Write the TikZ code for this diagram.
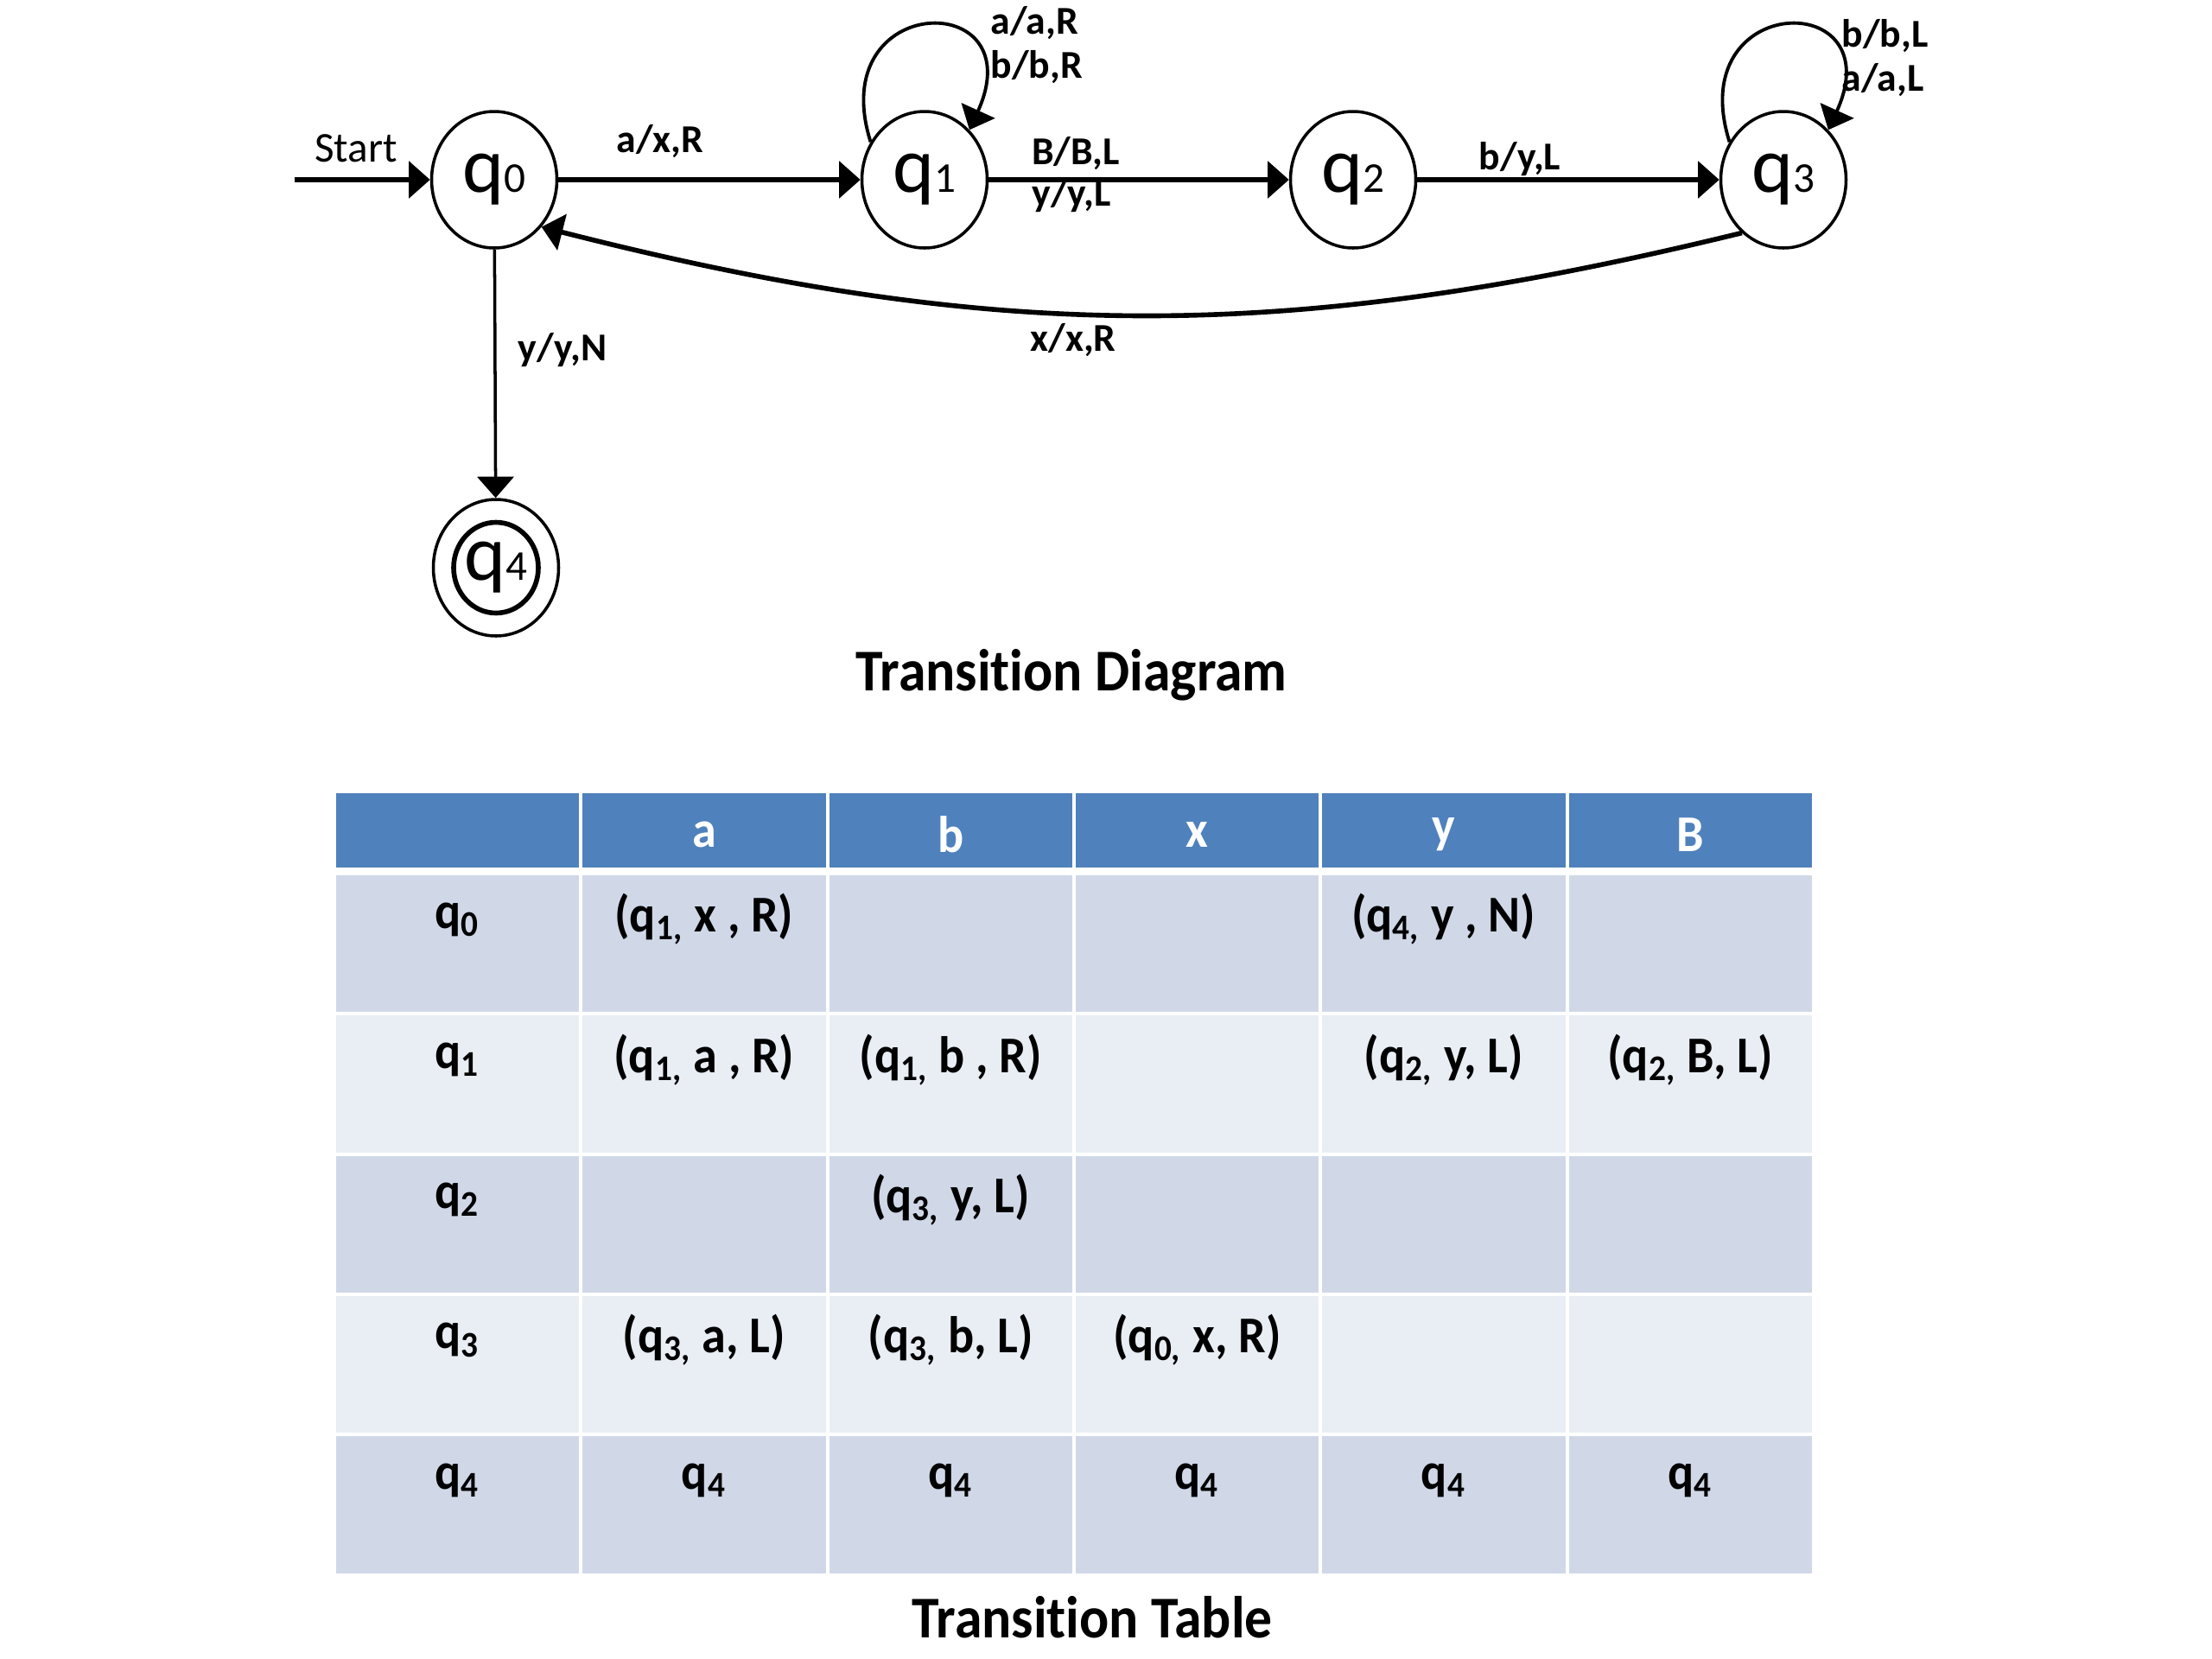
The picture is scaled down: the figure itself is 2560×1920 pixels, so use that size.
\documentclass[tikz,border=0pt]{standalone}
\usepackage{fontspec}
\setmainfont[Ligatures=NoCommon]{Carlito}
\newfontfamily\tabfont[FakeStretch=0.94, Ligatures=NoCommon]{Carlito}
\newfontfamily\capfont[FakeStretch=0.93, Ligatures=NoCommon]{Carlito}
\usetikzlibrary{shapes.geometric,arrows.meta}

\definecolor{hdrblue}{HTML}{4F81BD}
\definecolor{rowdark}{HTML}{D0D8E8}
\definecolor{rowlight}{HTML}{E9EDF4}

\newcommand{\stq}[1]{q{\fontsize{14}{15}\selectfont #1}}
\newcommand{\tq}[1]{q\textsubscript{#1}}

\tikzset{
    state/.style={ellipse, draw, line width=1pt, minimum width=14.5mm, minimum height=15.8mm,
        inner sep=0pt, font=\fontsize{26}{28}\selectfont},
    accin/.style={ellipse, draw, line width=1.6pt, minimum width=9.8mm, minimum height=10.5mm, inner sep=0pt},
    trans/.style={draw, line width=1.5pt, -{Triangle[length=7pt,width=12pt]}},
    lbl/.style={inner sep=0pt, font=\bfseries\fontsize{13}{14.5}\selectfont},
    hdrtxt/.style={inner sep=0pt, text=white, font=\tabfont\bfseries\fontsize{17}{19}\selectfont},
    celltxt/.style={inner sep=0pt, font=\tabfont\bfseries\fontsize{17}{19}\selectfont},
    caption/.style={inner sep=0pt, anchor=base, font=\capfont\bfseries\fontsize{19.5}{22}\selectfont}
}

\begin{document}
\begin{tikzpicture}[x=0.1mm, y=-0.1mm]
    \useasboundingbox (0,0) rectangle (2560,1920);

    % states
    \node[state] (q0) at (572,208) {\stq{0}};
    \node[state] (q1) at (1070,208) {\stq{1}};
    \node[state] (q2) at (1566,208) {\stq{2}};
    \node[state] (q3) at (2064,208) {\stq{3}};
    \node[state] (q4) at (574,657) {\stq{4}};
    \node[accin] (q4in) at (q4) {};

    % transitions
    \coordinate (start) at (341,208);
    \draw[trans] (start) -- (q0);
    \node[inner sep=0pt, font=\fontsize{14}{16}\selectfont] (lstart) at (412,172) {Start};
    \draw[trans] (q0) -- (q1);
    \draw[trans] (q1) -- (q2);
    \draw[trans] (q2) -- (q3);
    \draw[trans, line width=1.1pt] (q1.145) .. controls +(-55,-175) and +(75,-165) .. (q1.48);
    \draw[trans, line width=1.1pt] (q3.145) .. controls +(-55,-175) and +(75,-165) .. (q3.48);
    \draw[trans, line width=1.6pt] (q3.-128) to[bend left=14] (q0.-45);
    \draw[trans, line width=1pt] (q0) -- (q4);

    \node[lbl] (lax) at (764,164) {a/x,R};
    \node[lbl] (lbb) at (1245,178) {B/B,L};
    \node[lbl] (lyy) at (1240,226) {y/y,L};
    \node[lbl] (lby) at (1759,184) {b/y,L};
    \node[lbl] (lxx) at (1242,394) {x/x,R};
    \node[lbl] (lyn) at (651,405) {y/y,N};
    \node[lbl, anchor=west, align=left] (lq1) at (1146,52) {a/a,R\\b/b,R};
    \node[lbl, anchor=west, align=left] (lq3) at (2131,67) {b/b,L\\a/a,L};

    \node[caption] (ttd) at (1240,799) {Transition Diagram};

    % table
    \foreach \c in {0,...,5} {
        \fill[hdrblue] (387+\c*285.3+2,918) rectangle (387+\c*285.3+283.3,1004);
        \foreach \r in {0,...,4} {
            \pgfmathtruncatemacro{\shade}{mod(\r,2)}
            \ifnum\shade=0
                \def\cellcol{rowdark}
            \else
                \def\cellcol{rowlight}
            \fi
            \fill[\cellcol] (387+\c*285.3+2,1011+\r*162.3+2) rectangle (387+\c*285.3+283.3,1011+\r*162.3+160.3);
        }
    }
    \foreach \c/\h in {1/a,2/b,3/x,4/y,5/B}
        \node[hdrtxt] (h\c) at (387+\c*285.3+142.6,966) {\h};
    \foreach \r in {0,...,4}
        \node[celltxt] (r\r) at (529,1064+\r*162.3) {\tq{\r}};
    \foreach \r/\c/\txt in {0/1/{(\tq{1,} x , R)}, 0/4/{(\tq{4,} y , N)},
            1/1/{(\tq{1,} a , R)}, 1/2/{(\tq{1,} b , R)}, 1/4/{(\tq{2,} y, L)}, 1/5/{(\tq{2,} B, L)},
            2/2/{(\tq{3,} y, L)},
            3/1/{(\tq{3,} a, L)}, 3/2/{(\tq{3,} b, L)}, 3/3/{(\tq{0,} x, R)},
            4/1/{\tq{4}}, 4/2/{\tq{4}}, 4/3/{\tq{4}}, 4/4/{\tq{4}}, 4/5/{\tq{4}}}
        \node[celltxt] (e\r\c) at (387+\c*285.3+142.6,1064+\r*162.3) {\txt};

    \node[caption] (ttt) at (1264,1895) {Transition Table};
\end{tikzpicture}
\end{document}
